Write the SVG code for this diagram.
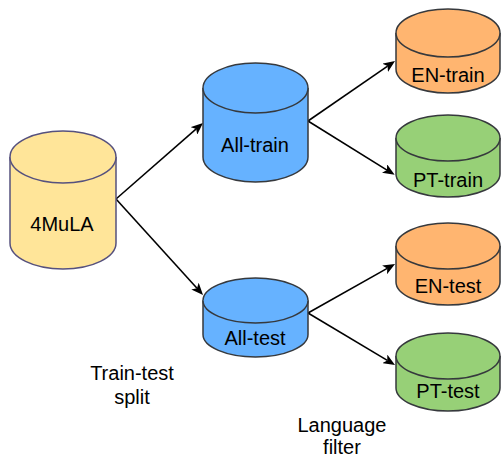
<svg xmlns="http://www.w3.org/2000/svg" width="501" height="457" viewBox="0 0 501 457">
<style>
.cyl{stroke-width:1.5}
.y{fill:#FFE599;stroke:#56517E}
.b{fill:#66B2FF;stroke:#36393D}
.o{fill:#FFB570;stroke:#36393D}
.g{fill:#97D077;stroke:#36393D}
text{font-family:"Liberation Sans",Arial,sans-serif;font-size:20px;fill:#000;text-anchor:middle}
.edge{fill:none;stroke:#000;stroke-width:1.6;marker-end:url(#arr)}
</style>
<defs>
<marker id="arr" markerUnits="userSpaceOnUse" viewBox="0 0 12 10" refX="3" refY="5" markerWidth="12" markerHeight="10" orient="auto">
<path d="M0,0 L12,5 L0,10 L3,5 Z" fill="#000"/>
</marker>
</defs>
<g id="edges">
<path class="edge" d="M116,199 L196.2,128.9"/>
<path class="edge" d="M116,199 L197,288.3"/>
<path class="edge" d="M308,121 L387.6,66.1"/>
<path class="edge" d="M308,121 L387,170.1"/>
<path class="edge" d="M308,313 L387.2,268.4"/>
<path class="edge" d="M308,313 L387.3,360.4"/>
</g>
<g id="n4mula">
<path class="cyl y" d="M10,157 A53,26 0 0 1 116,157 L116,243 A53,26 0 0 1 10,243 Z"/>
<path class="cyl y" fill="none" d="M10,157 A53,26 0 0 0 116,157"/>
<text x="62" y="231">4MuLA</text>
</g>
<g id="alltrain">
<path class="cyl b" d="M203,88 A52.5,25 0 0 1 308,88 L308,157 A52.5,25 0 0 1 203,157 Z"/>
<path class="cyl b" d="M203,88 A52.5,25 0 0 0 308,88"/>
<text x="255" y="152">All-train</text>
</g>
<g id="alltest">
<path class="cyl b" d="M203,300.5 A52.5,22.5 0 0 1 308,300.5 L308,334.5 A52.5,22.5 0 0 1 203,334.5 Z"/>
<path class="cyl b" d="M203,300.5 A52.5,22.5 0 0 0 308,300.5"/>
<text x="255" y="345">All-test</text>
</g>
<g id="entrain">
<path class="cyl o" d="M396,33 A52,24 0 0 1 500,33 L500,69 A52,24 0 0 1 396,69 Z"/>
<path class="cyl o" d="M396,33 A52,24 0 0 0 500,33"/>
<text x="448" y="82">EN-train</text>
</g>
<g id="pttrain">
<path class="cyl g" d="M396,138 A52,23 0 0 1 500,138 L500,174 A52,23 0 0 1 396,174 Z"/>
<path class="cyl g" d="M396,138 A52,23 0 0 0 500,138"/>
<text x="448" y="187">PT-train</text>
</g>
<g id="entest">
<path class="cyl o" d="M396,246 A52,23 0 0 1 500,246 L500,282 A52,23 0 0 1 396,282 Z"/>
<path class="cyl o" d="M396,246 A52,23 0 0 0 500,246"/>
<text x="448" y="293">EN-test</text>
</g>
<g id="pttest">
<path class="cyl g" d="M396,356 A52,23 0 0 1 500,356 L500,388 A52,23 0 0 1 396,388 Z"/>
<path class="cyl g" d="M396,356 A52,23 0 0 0 500,356"/>
<text x="448" y="398">PT-test</text>
</g>
<g id="labels">
<text x="132" y="380">Train-test</text>
<text x="132" y="404">split</text>
<text x="342" y="432">Language</text>
<text x="342" y="454">filter</text>
</g>
</svg>
